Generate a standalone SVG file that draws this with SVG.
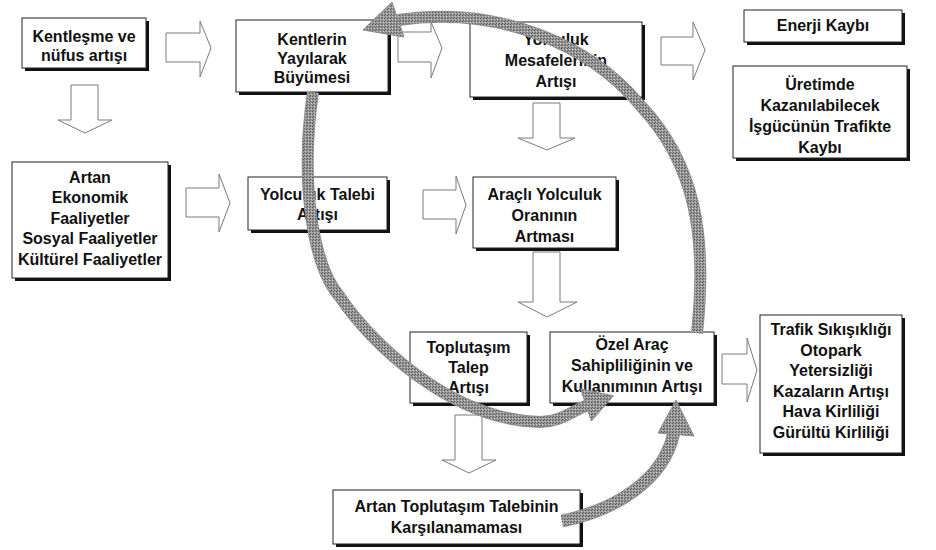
<svg xmlns="http://www.w3.org/2000/svg" width="936" height="550" viewBox="0 0 936 550">
<defs>
<pattern id="dither" width="3" height="3" patternUnits="userSpaceOnUse">
<rect width="3" height="3" fill="#9a9a9a"/>
<rect x="0" y="0" width="1" height="1" fill="#555"/>
<rect x="2" y="1" width="1" height="1" fill="#c8c8c8"/>
<rect x="1" y="2" width="1" height="1" fill="#5e5e5e"/>
</pattern>
<style>
.box{fill:#fff;stroke:#222;stroke-width:1}
.sh{fill:#111}
.t{font-family:"Liberation Sans",Arial,sans-serif;font-weight:bold;font-size:16px;text-anchor:middle;fill:#111}
.hollow{fill:#fff;stroke:#7a7a7a;stroke-width:1}
.base{fill:none;stroke:#8d8d8d}
.shaft{fill:none;stroke:url(#dither)}
.head{fill:url(#dither);stroke:#8d8d8d;stroke-width:1}
</style>
</defs>
<rect width="936" height="550" fill="#fff"/>

<g id="n1">
<rect class="sh" x="25" y="21" width="124" height="50"/>
<rect class="box" x="22" y="18" width="124" height="50"/>
<text class="t" x="84" y="42">Kentleşme ve</text>
<text class="t" x="84" y="61">nüfus artışı</text>
</g>
<g id="n2">
<rect class="sh" x="239" y="23" width="152" height="72"/>
<rect class="box" x="236" y="20" width="152" height="72"/>
<text class="t" x="312" y="45">Kentlerin</text>
<text class="t" x="312" y="64">Yayılarak</text>
<text class="t" x="312" y="83">Büyümesi</text>
</g>
<g id="n3">
<rect class="sh" x="473" y="25" width="172" height="75"/>
<rect class="box" x="470" y="22" width="172" height="75"/>
<text class="t" x="556" y="45">Yolculuk</text>
<text class="t" x="556" y="66">Mesafelerinin</text>
<text class="t" x="556" y="87">Artışı</text>
</g>
<g id="n4">
<rect class="sh" x="747" y="13" width="158" height="32"/>
<rect class="box" x="744" y="10" width="158" height="32"/>
<text class="t" x="823" y="31">Enerji Kaybı</text>
</g>
<g id="n5">
<rect class="sh" x="736" y="69" width="174" height="92"/>
<rect class="box" x="733" y="66" width="174" height="92"/>
<text class="t" x="820" y="90">Üretimde</text>
<text class="t" x="820" y="111">Kazanılabilecek</text>
<text class="t" x="820" y="132">İşgücünün Trafikte</text>
<text class="t" x="820" y="153">Kaybı</text>
</g>
<g id="n6">
<rect class="sh" x="15" y="165" width="156" height="116"/>
<rect class="box" x="12" y="162" width="156" height="116"/>
<text class="t" x="90" y="183">Artan</text>
<text class="t" x="90" y="203">Ekonomik</text>
<text class="t" x="90" y="224">Faaliyetler</text>
<text class="t" x="90" y="244">Sosyal Faaliyetler</text>
<text class="t" x="90" y="265">Kültürel Faaliyetler</text>
</g>
<g id="n7">
<rect class="sh" x="251" y="180" width="139" height="53"/>
<rect class="box" x="248" y="177" width="139" height="53"/>
<text class="t" x="317.5" y="200">Yolculuk Talebi</text>
<text class="t" x="317.5" y="220">Artışı</text>
</g>
<g id="n8">
<rect class="sh" x="476" y="180" width="143" height="71"/>
<rect class="box" x="473" y="177" width="143" height="71"/>
<text class="t" x="544.5" y="200">Araçlı Yolculuk</text>
<text class="t" x="544.5" y="221">Oranının</text>
<text class="t" x="544.5" y="242">Artması</text>
</g>
<g id="n9">
<rect class="sh" x="413" y="335" width="117" height="71"/>
<rect class="box" x="410" y="332" width="117" height="71"/>
<text class="t" x="468.5" y="353">Toplutaşım</text>
<text class="t" x="468.5" y="373">Talep</text>
<text class="t" x="468.5" y="393">Artışı</text>
</g>
<g id="n10">
<rect class="sh" x="553" y="335" width="164" height="71"/>
<rect class="box" x="550" y="332" width="164" height="71"/>
<text class="t" x="632" y="350">Özel Araç</text>
<text class="t" x="632" y="371">Sahipliliğinin ve</text>
<text class="t" x="632" y="392">Kullanımının Artışı</text>
</g>
<g id="n11">
<rect class="sh" x="763" y="318" width="142" height="138"/>
<rect class="box" x="760" y="315" width="142" height="138"/>
<text class="t" x="831" y="335">Trafik Sıkışıklığı</text>
<text class="t" x="831" y="355.5">Otopark</text>
<text class="t" x="831" y="376">Yetersizliği</text>
<text class="t" x="831" y="396.5">Kazaların Artışı</text>
<text class="t" x="831" y="417">Hava Kirliliği</text>
<text class="t" x="831" y="437.5">Gürültü Kirliliği</text>
</g>
<g id="n12">
<rect class="sh" x="336" y="493" width="247" height="54"/>
<rect class="box" x="333" y="490" width="247" height="54"/>
<text class="t" x="456.5" y="512">Artan Toplutaşım Talebinin</text>
<text class="t" x="456.5" y="533">Karşılanamaması</text>
</g>

<g id="connectors">
<polygon class="hollow" points="166,33 200,33 200,21 211,48 200,77 200,62 166,62"/>
<polygon class="hollow" points="398,32 431,32 431,22 442,48 431,78 431,62 398,62"/>
<polygon class="hollow" points="661,37 693,37 693,22 705,50 693,80 693,65 661,65"/>
<polygon class="hollow" points="71,85 98,85 98,120 112,120 85,133 58,120 71,120"/>
<polygon class="hollow" points="533,103 560,103 560,138 575,138 547,150 518,138 533,138"/>
<polygon class="hollow" points="186,188 219,188 219,174 230,203 219,232 219,217 186,217"/>
<polygon class="hollow" points="423,190 456,190 456,176 466,205 456,234 456,219 423,219"/>
<polygon class="hollow" points="533,252 560,252 560,302 577,302 547,317 518,302 533,302"/>
<polygon class="hollow" points="455,415 482,415 482,460 496,460 469,473 442,460 455,460"/>
<polygon class="hollow" points="722,354 747,354 747,338 757,370 747,402 747,384 722,384"/>

<g id="loop-arrow">
<path class="base" stroke-width="12" d="M 697 333 C 707 240, 697 165, 640 105 C 590 45, 500 5, 398 20"/>
<path class="shaft" stroke-width="10" d="M 697 333 C 707 240, 697 165, 640 105 C 590 45, 500 5, 398 20"/>
<polygon class="head" points="363,30 392,2 404,37"/>
</g>
<g id="sprawl-arrow">
<path class="base" stroke-width="12" d="M 313 92 C 300 180, 312 265, 340 297 C 370 342, 450 420, 540 422 C 560 422, 572 411, 588 405"/>
<path class="shaft" stroke-width="10" d="M 313 92 C 300 180, 312 265, 340 297 C 370 342, 450 420, 540 422 C 560 422, 572 411, 588 405"/>
<polygon class="head" points="613.5,395.8 580.6,388.9 591.4,421.1"/>
</g>
<g id="unmet-arrow">
<path class="base" stroke-width="13" d="M 562 521 C 612 511, 664 482, 674 432"/>
<path class="shaft" stroke-width="11" d="M 562 521 C 612 511, 664 482, 674 432"/>
<polygon class="head" points="676,400 658,433 694,436"/>
</g>
</g>
</svg>
